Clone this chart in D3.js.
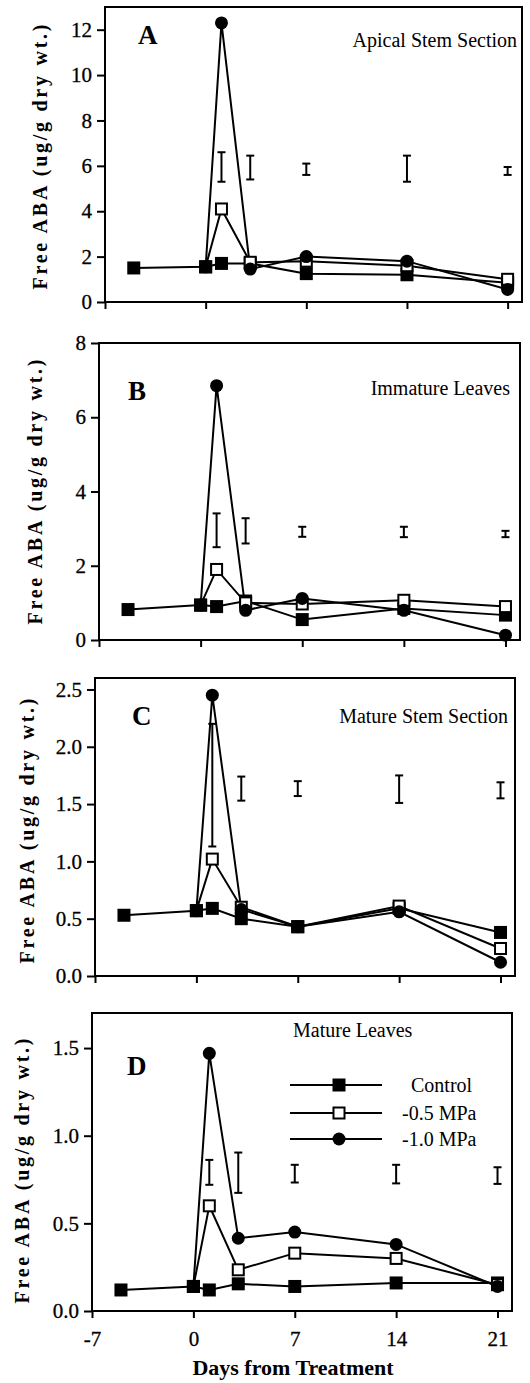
<!DOCTYPE html>
<html>
<head>
<meta charset="utf-8">
<script src="https://cdn.jsdelivr.net/npm/d3@7"></script>
<style>
  body { margin: 0; background: #fff; }
  svg text { font-family: "Liberation Serif", "Times New Roman", serif; fill: #000; }
</style>
</head>
<body>
<div id="viz"></div>
<script>
const width = 530;
const height = 1383;

// sampling days (days from treatment)
const days = [-5, 0, 1.1, 3.1, 7, 14, 21];
const barDays = [1.1, 3.1, 7, 14, 21];

// A - apical stem section
const apicalControl = [1.5, 1.55, 1.7, 1.7, 1.25, 1.2, 0.85];
const apicalMpa05 = [null, 1.55, 4.1, 1.75, 1.8, 1.6, 1.0];
const apicalMpa10 = [null, 1.55, 12.3, 1.45, 2.0, 1.8, 0.55];
const apicalBarLo = [5.3, 5.4, 5.6, 5.3, 5.6];
const apicalBarHi = [6.6, 6.45, 6.1, 6.45, 5.95];

// B - immature leaves
const immatureControl = [0.82, 0.94, 0.9, 1.05, 0.55, 0.85, 0.67];
const immatureMpa05 = [null, 0.94, 1.9, 1.0, 0.97, 1.07, 0.9];
const immatureMpa10 = [null, 0.94, 6.85, 0.8, 1.12, 0.8, 0.13];
const immatureBarLo = [2.5, 2.6, 2.78, 2.77, 2.77];
const immatureBarHi = [3.41, 3.28, 3.05, 3.05, 2.94];

// C - mature stem section
const stemControl = [0.53, 0.57, 0.59, 0.5, 0.43, 0.59, 0.38];
const stemMpa05 = [null, 0.57, 1.02, 0.6, 0.43, 0.61, 0.24];
const stemMpa10 = [null, 0.57, 2.45, 0.58, 0.43, 0.56, 0.12];
const stemBarLo = [1.13, 1.53, 1.57, 1.51, 1.55];
const stemBarHi = [2.2, 1.74, 1.70, 1.75, 1.69];

// D - mature leaves
const leavesControl = [0.12, 0.14, 0.12, 0.155, 0.14, 0.16, 0.16];
const leavesMpa05 = [null, 0.14, 0.6, 0.235, 0.33, 0.3, 0.15];
const leavesMpa10 = [null, 0.14, 1.47, 0.415, 0.45, 0.38, 0.14];
const leavesBarLo = [0.72, 0.674, 0.733, 0.728, 0.725];
const leavesBarHi = [0.862, 0.904, 0.834, 0.834, 0.82];

const letters = ["A", "B", "C", "D"];
const titles = ["Apical Stem Section", "Immature Leaves", "Mature Stem Section", "Mature Leaves"];
const yTicksA = [0, 2, 4, 6, 8, 10, 12];
const yTicksB = [0, 2, 4, 6, 8];
const yTicksC = [0, 0.5, 1.0, 1.5, 2.0, 2.5];
const yTicksD = [0, 0.5, 1.0, 1.5];
const xTicks = [-7, 0, 7, 14, 21];
const seriesNames = ["Control", "-0.5 MPa", "-1.0 MPa"];

// layout of each panel (pixels)
const layout = [
  {left: 105, right: 522, top: 7, bottom: 302, yMax: 13, fmt: d3.format("d"),
   letter: [138, 44], title: [517, 47, "end"], ylab: [40, 157]},
  {left: 99, right: 520, top: 343, bottom: 640, yMax: 8, fmt: d3.format("d"),
   letter: [128, 400], title: [510, 395, "end"], ylab: [35, 492]},
  {left: 95, right: 515, top: 678, bottom: 976, yMax: 2.6, fmt: d3.format(".1f"),
   letter: [132, 725], title: [508, 723, "end"], ylab: [27, 831]},
  {left: 92, right: 512, top: 1013, bottom: 1311, yMax: 1.7, fmt: d3.format(".1f"),
   letter: [127, 1075], title: [293, 1037, "start"], ylab: [22, 1171]}
];

const panels = [
  {series: [apicalControl, apicalMpa05, apicalMpa10], lo: apicalBarLo, hi: apicalBarHi, ticks: yTicksA},
  {series: [immatureControl, immatureMpa05, immatureMpa10], lo: immatureBarLo, hi: immatureBarHi, ticks: yTicksB},
  {series: [stemControl, stemMpa05, stemMpa10], lo: stemBarLo, hi: stemBarHi, ticks: yTicksC},
  {series: [leavesControl, leavesMpa05, leavesMpa10], lo: leavesBarLo, hi: leavesBarHi, ticks: yTicksD}
];

const svg = d3.select("#viz").append("svg")
  .attr("width", width)
  .attr("height", height);

function drawMarker(g, kind, x, y) {
  if (kind === 0) {
    g.append("rect").attr("x", x - 6.5).attr("y", y - 6.5)
      .attr("width", 13).attr("height", 13).attr("fill", "#000");
  } else if (kind === 1) {
    g.append("rect").attr("x", x - 5.5).attr("y", y - 5.5)
      .attr("width", 11).attr("height", 11)
      .attr("fill", "#fff").attr("stroke", "#000").attr("stroke-width", 2);
  } else {
    g.append("circle").attr("cx", x).attr("cy", y).attr("r", 6.5).attr("fill", "#000");
  }
}

panels.forEach((p, i) => {
  const L = layout[i];
  const g = svg.append("g");

  const x = d3.scaleLinear().domain([-7, 22]).range([L.left, L.right]);
  const y = d3.scaleLinear().domain([0, L.yMax]).range([L.bottom, L.top]);

  // y axis
  const yAxis = g.append("g")
    .attr("transform", `translate(${L.left},0)`)
    .call(d3.axisLeft(y).tickValues(p.ticks).tickFormat(L.fmt).tickSize(8).tickPadding(5));
  yAxis.attr("font-family", null);
  yAxis.select(".domain").remove();
  yAxis.selectAll(".tick line").attr("stroke-width", 2);
  yAxis.selectAll(".tick text")
    .style("font-family", "'Liberation Serif', serif")
    .style("font-size", "21px")
    .attr("stroke", "#000").attr("stroke-width", 0.3);

  // x axis (plain hyphen for negatives, as in the original)
  const xAxis = g.append("g")
    .attr("transform", `translate(0,${L.bottom})`)
    .call(d3.axisBottom(x).tickValues(xTicks).tickSize(7).tickPadding(13)
      .tickFormat(i === 3 ? (d => String(d)) : ""));
  xAxis.attr("font-family", null);
  xAxis.select(".domain").remove();
  xAxis.selectAll(".tick line").attr("stroke-width", 2);
  xAxis.selectAll(".tick text")
    .style("font-family", "'Liberation Serif', serif")
    .style("font-size", "21px")
    .attr("stroke", "#000").attr("stroke-width", 0.3);

  // frame
  g.append("rect")
    .attr("x", L.left).attr("y", L.top)
    .attr("width", L.right - L.left).attr("height", L.bottom - L.top)
    .attr("fill", "none").attr("stroke", "#000").attr("stroke-width", 2);

  // error bars
  barDays.forEach((d, j) => {
    const bx = x(d);
    const y1 = y(p.lo[j]), y2 = y(p.hi[j]);
    g.append("line").attr("x1", bx).attr("x2", bx).attr("y1", y1).attr("y2", y2)
      .attr("stroke", "#000").attr("stroke-width", 2);
    [y1, y2].forEach(cy => {
      g.append("line").attr("x1", bx - 4).attr("x2", bx + 4).attr("y1", cy).attr("y2", cy)
        .attr("stroke", "#000").attr("stroke-width", 2);
    });
  });

  // lines
  const line = d3.line()
    .defined(d => d[1] != null)
    .x(d => x(d[0]))
    .y(d => y(d[1]));

  p.series.forEach(vals => {
    const pts = days.map((d, j) => [d, vals[j]]);
    g.append("path").datum(pts)
      .attr("d", line)
      .attr("fill", "none").attr("stroke", "#000").attr("stroke-width", 2);
  });

  // markers
  p.series.forEach((vals, k) => {
    days.forEach((d, j) => {
      if (vals[j] != null) drawMarker(g, k, x(d), y(vals[j]));
    });
  });

  // panel letter and title
  g.append("text")
    .attr("x", L.letter[0]).attr("y", L.letter[1])
    .attr("font-size", 27).attr("font-weight", "bold")
    .text(letters[i]);

  g.append("text")
    .attr("x", L.title[0]).attr("y", L.title[1])
    .attr("text-anchor", L.title[2])
    .attr("font-size", 20)
    .text(titles[i]);

  // y label
  g.append("text")
    .attr("transform", `translate(${L.ylab[0]},${L.ylab[1]}) rotate(-90)`)
    .attr("text-anchor", "middle")
    .attr("dy", "0.35em")
    .attr("font-size", 20).attr("font-weight", "bold")
    .attr("textLength", 265).attr("lengthAdjust", "spacing")
    .text("Free ABA (ug/g dry wt.)");

  // legend in panel D
  if (i === 3) {
    const legY = [1085, 1113, 1139];
    const legX = [411, 402, 402];
    seriesNames.forEach((name, k) => {
      g.append("line").attr("x1", 290).attr("x2", 382)
        .attr("y1", legY[k]).attr("y2", legY[k])
        .attr("stroke", "#000").attr("stroke-width", 2);
      drawMarker(g, k, 339, legY[k]);
      g.append("text")
        .attr("x", legX[k]).attr("y", legY[k] + 7)
        .attr("font-size", 20)
        .text(name);
    });

    g.append("text")
      .attr("x", 293).attr("y", 1375)
      .attr("text-anchor", "middle")
      .attr("font-size", 22).attr("font-weight", "bold")
      .text("Days from Treatment");
  }
});
</script>
</body>
</html>
